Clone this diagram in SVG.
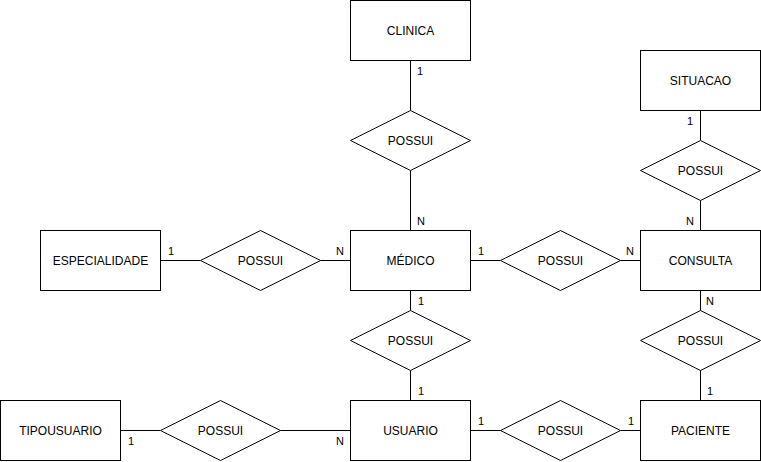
<svg xmlns="http://www.w3.org/2000/svg" width="761" height="462" viewBox="0 0 761 462">
<style>
.e{fill:#fff;stroke:#000;stroke-width:1}
.l{fill:none;stroke:#000;stroke-width:1}
text{font-family:"Liberation Sans",Arial,sans-serif;font-size:12px;fill:#000}
.c{text-anchor:middle;dominant-baseline:central}
.lb{font-size:11px}
</style>
<rect width="761" height="462" fill="#fff"/>
<g id="connectors">
<path class="l" d="M410.5 60.5V110.5M410.5 170.5V230.5"/>
<path class="l" d="M700.5 110.5V140.5M700.5 200.5V230.5"/>
<path class="l" d="M160.5 260.5H200.5M320.5 260.5H350.5"/>
<path class="l" d="M470.5 260.5H500.5M620.5 260.5H640.5"/>
<path class="l" d="M410.5 290.5V310.5M410.5 370.5V400.5"/>
<path class="l" d="M700.5 290.5V310.5M700.5 370.5V400.5"/>
<path class="l" d="M120.5 430.5H160.5M280.5 430.5H350.5"/>
<path class="l" d="M470.5 430.5H500.5M620.5 430.5H640.5"/>
<text class="lb" x="417" y="75">1</text>
<text class="lb" x="417" y="225">N</text>
<text class="lb" x="687" y="125">1</text>
<text class="lb" x="686" y="225">N</text>
<text class="lb" x="168" y="255">1</text>
<text class="lb" x="336" y="255">N</text>
<text class="lb" x="478" y="255">1</text>
<text class="lb" x="626" y="255">N</text>
<text class="lb" x="418" y="305">1</text>
<text class="lb" x="418" y="395">1</text>
<text class="lb" x="706" y="305">N</text>
<text class="lb" x="707" y="395">1</text>
<text class="lb" x="128" y="445">1</text>
<text class="lb" x="336" y="445">N</text>
<text class="lb" x="478" y="425">1</text>
<text class="lb" x="628" y="425">1</text>
</g>
<g id="clinica"><rect class="e" x="350.5" y="0.5" width="120" height="60"/><text class="c" x="410.5" y="30.5">CLINICA</text></g>
<g id="situacao"><rect class="e" x="640.5" y="50.5" width="120" height="60"/><text class="c" x="700.5" y="80.5">SITUACAO</text></g>
<g id="especialidade"><rect class="e" x="40.5" y="230.5" width="120" height="60"/><text class="c" x="100.5" y="260.5">ESPECIALIDADE</text></g>
<g id="medico"><rect class="e" x="350.5" y="230.5" width="120" height="60"/><text class="c" x="410.5" y="260.5">MÉDICO</text></g>
<g id="consulta"><rect class="e" x="640.5" y="230.5" width="120" height="60"/><text class="c" x="700.5" y="260.5">CONSULTA</text></g>
<g id="tipousuario"><rect class="e" x="0.5" y="400.5" width="120" height="60"/><text class="c" x="60.5" y="430.5">TIPOUSUARIO</text></g>
<g id="usuario"><rect class="e" x="350.5" y="400.5" width="120" height="60"/><text class="c" x="410.5" y="430.5">USUARIO</text></g>
<g id="paciente"><rect class="e" x="640.5" y="400.5" width="120" height="60"/><text class="c" x="700.5" y="430.5">PACIENTE</text></g>
<g id="r-clinica-medico"><path class="e" d="M410.5 110.5L470.5 140.5L410.5 170.5L350.5 140.5Z"/><text class="c" x="410.5" y="140.5">POSSUI</text></g>
<g id="r-situacao-consulta"><path class="e" d="M700.5 140.5L760.5 170.5L700.5 200.5L640.5 170.5Z"/><text class="c" x="700.5" y="170.5">POSSUI</text></g>
<g id="r-especialidade-medico"><path class="e" d="M260.5 230.5L320.5 260.5L260.5 290.5L200.5 260.5Z"/><text class="c" x="260.5" y="260.5">POSSUI</text></g>
<g id="r-medico-consulta"><path class="e" d="M560.5 230.5L620.5 260.5L560.5 290.5L500.5 260.5Z"/><text class="c" x="560.5" y="260.5">POSSUI</text></g>
<g id="r-medico-usuario"><path class="e" d="M410.5 310.5L470.5 340.5L410.5 370.5L350.5 340.5Z"/><text class="c" x="410.5" y="340.5">POSSUI</text></g>
<g id="r-consulta-paciente"><path class="e" d="M700.5 310.5L760.5 340.5L700.5 370.5L640.5 340.5Z"/><text class="c" x="700.5" y="340.5">POSSUI</text></g>
<g id="r-tipousuario-usuario"><path class="e" d="M220.5 400.5L280.5 430.5L220.5 460.5L160.5 430.5Z"/><text class="c" x="220.5" y="430.5">POSSUI</text></g>
<g id="r-usuario-paciente"><path class="e" d="M560.5 400.5L620.5 430.5L560.5 460.5L500.5 430.5Z"/><text class="c" x="560.5" y="430.5">POSSUI</text></g>
</svg>
